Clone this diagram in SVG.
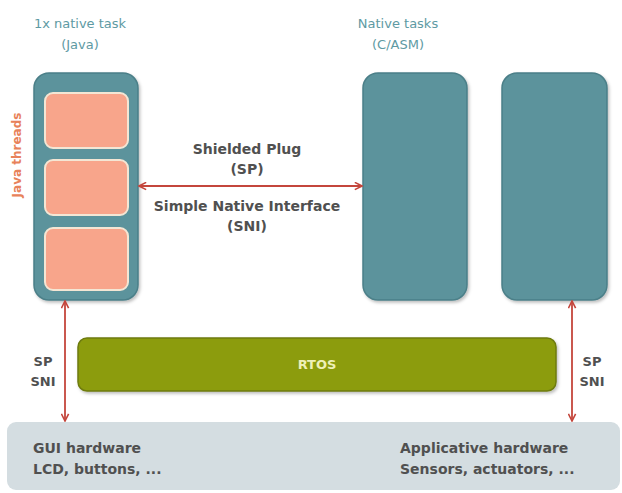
<svg xmlns="http://www.w3.org/2000/svg" width="622" height="493" viewBox="0 0 622 493">
<style>
.t{font-family:"DejaVu Sans","Liberation Sans",sans-serif;font-weight:bold;fill:#505050;font-size:13px}
.lbl{font-size:14px}
.title{font-family:"DejaVu Sans","Liberation Sans",sans-serif;fill:#5e9aa3;font-size:13px}
.task{fill:#5b939c;stroke:#4b7f88;stroke-width:1.5}
.thr{fill:#f8a58b;stroke:#f4e6d4;stroke-width:2}
.arr{stroke:#c4463c;stroke-width:1.8;fill:none}
</style>
<defs>
<marker id="ah" viewBox="0 0 10 10" refX="9" refY="5" markerWidth="9" markerHeight="9" orient="auto-start-reverse" markerUnits="userSpaceOnUse">
<path d="M1,1 L9,5 L1,9" fill="none" stroke="#c4463c" stroke-width="1.8"/>
</marker>
<filter id="sh" x="-10%" y="-10%" width="130%" height="130%">
<feDropShadow dx="1.5" dy="2" stdDeviation="1.5" flood-color="#000" flood-opacity="0.25"/>
</filter>
</defs>
<rect width="622" height="493" fill="#ffffff"/>
<g id="titles">
<text class="title" x="80" y="28" text-anchor="middle">1x native task</text>
<text class="title" x="80" y="49" text-anchor="middle">(Java)</text>
<text class="title" x="398" y="28" text-anchor="middle">Native tasks</text>
<text class="title" x="398" y="49" text-anchor="middle">(C/ASM)</text>
</g>
<g id="java-task">
<rect class="task" x="34" y="73" width="104" height="227" rx="15" filter="url(#sh)"/>
<rect class="thr" x="45" y="93" width="83" height="55" rx="8"/>
<rect class="thr" x="45" y="160" width="83" height="55" rx="8"/>
<rect class="thr" x="45" y="228" width="83" height="62" rx="8"/>
<text x="17" y="155" transform="rotate(-90 17 155)" text-anchor="middle" dominant-baseline="central" style="font-family:'DejaVu Sans','Liberation Sans',sans-serif;font-weight:bold;font-size:12px;fill:#e8825a">Java threads</text>
</g>
<g id="native-task-1">
<rect class="task" x="363" y="73" width="104" height="227" rx="15" filter="url(#sh)"/>
</g>
<g id="native-task-2">
<rect class="task" x="502" y="73" width="105" height="227" rx="15" filter="url(#sh)"/>
</g>
<g id="rtos">
<rect x="78" y="338" width="478" height="53" rx="9" fill="#8c9c0c" stroke="#6e7b10" stroke-width="1.5" filter="url(#sh)"/>
<text x="317" y="364" text-anchor="middle" dominant-baseline="central" style="font-family:'DejaVu Sans','Liberation Sans',sans-serif;font-weight:bold;font-size:13px;fill:#eef0b8">RTOS</text>
</g>
<g id="hardware">
<rect x="7" y="422" width="613" height="68" rx="9" fill="#d4dde1"/>
<text class="t" x="33" y="453" style="font-size:14px">GUI hardware</text>
<text class="t" x="33" y="474" style="font-size:14px">LCD, buttons, ...</text>
<text class="t" x="400" y="453" style="font-size:14px">Applicative hardware</text>
<text class="t" x="400" y="474" style="font-size:14px">Sensors, actuators, ...</text>
</g>
<g id="connectors">
<line class="arr" x1="139" y1="186" x2="362" y2="186" marker-start="url(#ah)" marker-end="url(#ah)"/>
<line class="arr" x1="65" y1="301" x2="65" y2="421" marker-start="url(#ah)" marker-end="url(#ah)"/>
<line class="arr" x1="572" y1="301" x2="572" y2="421" marker-start="url(#ah)" marker-end="url(#ah)"/>
</g>
<g id="labels">
<text class="t lbl" x="247" y="154" text-anchor="middle">Shielded Plug</text>
<text class="t lbl" x="247" y="174" text-anchor="middle">(SP)</text>
<text class="t lbl" x="247" y="211" text-anchor="middle">Simple Native Interface</text>
<text class="t lbl" x="247" y="231" text-anchor="middle">(SNI)</text>
<text class="t" x="43" y="366" text-anchor="middle">SP</text>
<text class="t" x="43" y="386" text-anchor="middle">SNI</text>
<text class="t" x="592" y="366" text-anchor="middle">SP</text>
<text class="t" x="592" y="386" text-anchor="middle">SNI</text>
</g>
</svg>
